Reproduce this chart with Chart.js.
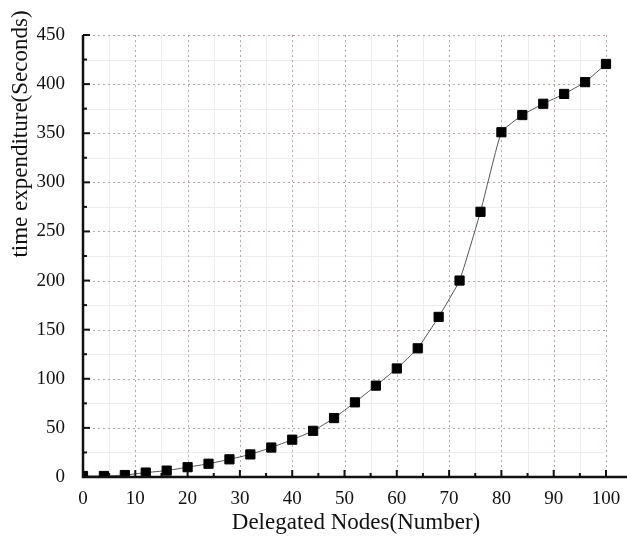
<!DOCTYPE html>
<html>
<head>
<meta charset="utf-8">
<script src="https://cdn.jsdelivr.net/npm/chart.js@4/dist/chart.umd.min.js"></script>
<style>
  html, body { margin: 0; padding: 0; background: #fff; }
  #wrap { width: 627px; height: 541px; }
</style>
</head>
<body>
<div id="wrap"><canvas id="nodesChart" width="627" height="541"></canvas></div>
<script>
// delegated nodes vs. time spent
const nodeCounts = [0, 4, 8, 12, 16, 20, 24, 28, 32, 36, 40, 44, 48, 52, 56, 60, 64, 68, 72, 76, 80, 84, 88, 92, 96, 100];
const timeSeconds = [1, 1, 2, 4.5, 6.5, 10, 13.5, 18, 23, 30, 38, 47, 60, 76, 93, 110.5, 131, 163, 200, 270, 351, 368.5, 380, 390, 402, 420.5];

const xTitle = 'Delegated Nodes(Number)';
const yTitle = 'time expenditure(Seconds)';

const serif = '"Liberation Serif", "Times New Roman", serif';

// grid, axis lines and the inward tick marks
const frame = {
    id: 'frame',
    beforeDatasetsDraw(chart) {
        const { ctx, chartArea: a, scales: { x, y } } = chart;
        ctx.save();
        ctx.lineWidth = 1;
        // minor solid grid
        ctx.strokeStyle = '#ececec';
        for (let v = 5; v < 100; v += 10) {
            const px = Math.round(x.getPixelForValue(v)) + 0.5;
            ctx.beginPath(); ctx.moveTo(px, a.top); ctx.lineTo(px, a.bottom); ctx.stroke();
        }
        for (let v = 25; v < 450; v += 50) {
            const py = Math.round(y.getPixelForValue(v)) + 0.5;
            ctx.beginPath(); ctx.moveTo(a.left, py); ctx.lineTo(a.right, py); ctx.stroke();
        }
        // major dotted grid
        ctx.strokeStyle = '#b9a9a6';
        ctx.setLineDash([2, 3]);
        for (let v = 10; v <= 100; v += 10) {
            const px = Math.round(x.getPixelForValue(v)) + 0.5;
            ctx.beginPath(); ctx.moveTo(px, a.top); ctx.lineTo(px, a.bottom); ctx.stroke();
        }
        for (let v = 50; v <= 450; v += 50) {
            const py = Math.round(y.getPixelForValue(v)) + 0.5;
            ctx.beginPath(); ctx.moveTo(a.left, py); ctx.lineTo(a.right, py); ctx.stroke();
        }
        ctx.restore();
    },
    afterDatasetsDraw(chart) {
        const { ctx, chartArea: a, scales: { x, y } } = chart;
        ctx.save();
        ctx.strokeStyle = '#111';
        ctx.lineWidth = 2.5;
        ctx.beginPath();
        ctx.moveTo(a.left, a.top);
        ctx.lineTo(a.left, a.bottom);
        ctx.lineTo(chart.width, a.bottom);
        ctx.stroke();
        ctx.lineWidth = 2;
        for (let v = 5; v <= 100; v += 5) {
            const px = x.getPixelForValue(v);
            const len = v % 10 === 0 ? 7 : 4;
            ctx.beginPath(); ctx.moveTo(px, a.bottom); ctx.lineTo(px, a.bottom - len); ctx.stroke();
        }
        for (let v = 25; v <= 450; v += 25) {
            const py = y.getPixelForValue(v);
            const len = v % 50 === 0 ? 7 : 4;
            ctx.beginPath(); ctx.moveTo(a.left, py); ctx.lineTo(a.left + len, py); ctx.stroke();
        }
        // axis titles
        ctx.fillStyle = '#111';
        ctx.font = '23px ' + serif;
        ctx.textAlign = 'center';
        ctx.textBaseline = 'middle';
        ctx.fillText(xTitle, 356, 523);
        ctx.translate(21, 134);
        ctx.rotate(-Math.PI / 2);
        ctx.fillText(yTitle, 0, 0);
        ctx.restore();
    }
};

new Chart(document.getElementById('nodesChart'), {
    type: 'line',
    data: {
        datasets: [{
            data: nodeCounts.map((n, i) => ({ x: n, y: timeSeconds[i] })),
            borderColor: '#555',
            borderWidth: 1,
            tension: 0.12,
            pointStyle: 'rect',
            pointRadius: 6.5,
            pointBackgroundColor: '#000',
            pointBorderColor: '#000',
            pointBorderWidth: 1,
            clip: { left: 0, bottom: 0, top: 20, right: 20 }
        }]
    },
    options: {
        responsive: false,
        animation: false,
        layout: { padding: { left: 0, top: 35, right: 21, bottom: 0 } },
        plugins: { legend: { display: false }, tooltip: { enabled: false } },
        scales: {
            x: {
                type: 'linear',
                min: 0, max: 100,
                grid: { display: false },
                border: { display: false },
                ticks: { stepSize: 10, padding: 3, color: '#111', font: { family: serif, size: 19 } },
                afterFit(s) { s.height = 64; s.paddingLeft = 0; s.paddingRight = 0; }
            },
            y: {
                min: 0, max: 450,
                grid: { display: false },
                border: { display: false },
                ticks: { stepSize: 50, padding: 10, color: '#111', font: { family: serif, size: 19 } },
                afterFit(s) { s.width = 83; s.paddingTop = 0; s.paddingBottom = 0; }
            }
        }
    },
    plugins: [frame]
});
</script>
</body>
</html>
